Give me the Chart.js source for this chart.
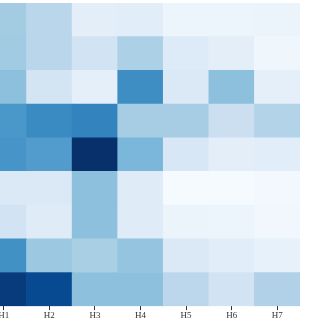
<!DOCTYPE html>
<html>
<head>
<meta charset="utf-8">
<script src="https://cdn.jsdelivr.net/npm/chart.js@4"></script>
<style>
html,body{margin:0;padding:0;width:320px;height:320px;overflow:hidden;background:#fff;}
#wrap{position:absolute;left:-19px;top:0;width:340px;height:320px;}
</style>
</head>
<body>
<div id="wrap"><canvas id="c" width="340" height="320"></canvas></div>
<script>
const columns = ["H1","H2","H3","H4","H5","H6","H7"];
// rows from top to bottom
const row1 = [36, 29, 10, 11, 5, 5, 6];
const row2 = [37, 29, 19, 33, 13, 10, 4];
const row3 = [42, 18, 9, 64, 14, 42, 9];
const row4 = [60, 65, 68, 35, 35, 22, 31];
const row5 = [61, 58, 100, 46, 16, 10, 11];
const row6 = [14, 14, 42, 12, 1, 1, 2];
const row7 = [19, 12, 42, 12, 6, 5, 3];
const row8 = [63, 38, 34, 40, 14, 11, 8];
const row9 = [96, 90, 42, 42, 28, 19, 32];
const rows = [row1,row2,row3,row4,row5,row6,row7,row8,row9];
const vmin = 0, vmax = 100;

const blues = ["#f7fbff","#deebf7","#c6dbef","#9ecae1","#6baed6","#4292c6","#2171b5","#08519c","#08306b"];
function hex(h){return [parseInt(h.slice(1,3),16),parseInt(h.slice(3,5),16),parseInt(h.slice(5,7),16)];}
function cmap(v){
  let t = (v - vmin)/(vmax - vmin); t = Math.max(0, Math.min(1, t));
  const p = t*(blues.length-1); const i = Math.min(Math.floor(p), blues.length-2); const f = p - i;
  const a = hex(blues[i]), b = hex(blues[i+1]);
  return `rgb(${Math.round(a[0]+(b[0]-a[0])*f)},${Math.round(a[1]+(b[1]-a[1])*f)},${Math.round(a[2]+(b[2]-a[2])*f)})`;
}

const datasets = rows.slice().reverse().map((r, k) => ({
  label: 'row' + (rows.length - k),
  data: r.map(() => 1),
  backgroundColor: r.map(cmap),
  borderWidth: 0,
  barPercentage: 1,
  categoryPercentage: 1
}));

new Chart(document.getElementById('c'), {
  type: 'bar',
  data: { labels: columns, datasets },
  options: {
    responsive: false,
    animation: false,
    devicePixelRatio: 1,
    layout: { padding: { top: 3, right: 21, left: 0, bottom: -1 } },
    plugins: { legend: { display: false }, tooltip: { enabled: false } },
    scales: {
      x: {
        stacked: true,
        border: { display: false },
        grid: { display: true, drawOnChartArea: false, drawTicks: true, tickLength: 4, offset: false, color: '#333' },
        ticks: { color: '#333', font: { family: 'Liberation Serif', size: 9 }, padding: 0, maxRotation: 0 }
      },
      y: {
        stacked: true, display: false, min: 0, max: 9
      }
    }
  }
});
</script>
</body>
</html>
